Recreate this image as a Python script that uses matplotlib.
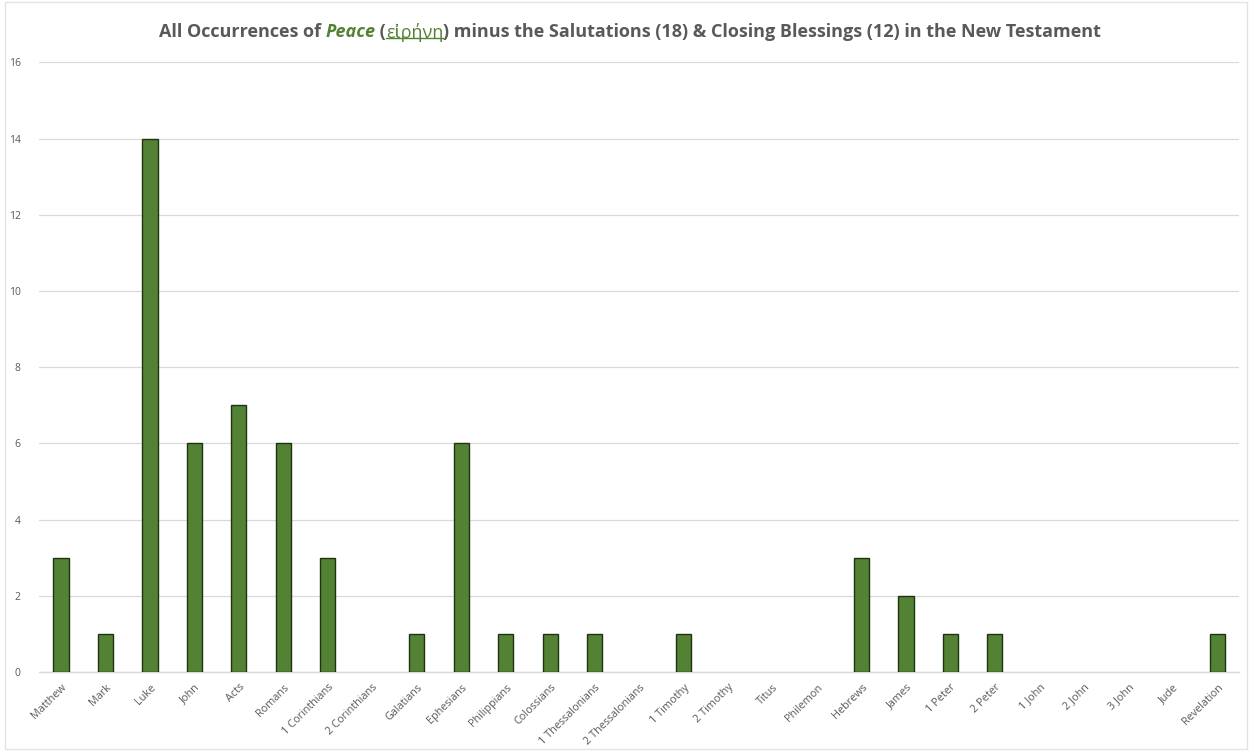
import matplotlib

matplotlib.use("Agg")
import matplotlib.pyplot as plt
from matplotlib.patches import Rectangle

# Occurrences per book, salutations and closing blessings removed.
books = [
    "Matthew", "Mark", "Luke", "John", "Acts", "Romans", "1 Corinthians",
    "2 Corinthians", "Galatians", "Ephesians", "Philippians", "Colossians",
    "1 Thessalonians", "2 Thessalonians", "1 Timothy", "2 Timothy", "Titus",
    "Philemon", "Hebrews", "James", "1 Peter", "2 Peter", "1 John", "2 John",
    "3 John", "Jude", "Revelation",
]
counts = [3, 1, 14, 6, 7, 6, 3, 0, 1, 6, 1, 1, 1, 0, 1, 0, 0, 0, 3, 2, 1, 1, 0, 0, 0, 0, 1]
y_ticks = [0, 2, 4, 6, 8, 10, 12, 14, 16]

BAR_COLOR = "#548235"
EDGE_COLOR = "#1E3312"
TEXT_GRAY = "#595959"
GRID_GRAY = "#D9D9D9"

plt.rcParams["font.family"] = ["Open Sans", "DejaVu Sans"]

fig = plt.figure(figsize=(12.52, 7.51), dpi=100)
ax = fig.add_axes([0.031, 0.105, 0.959, 0.812])

positions = list(range(len(books)))
# empty books get no outline so nothing shows on the baseline
edges = [EDGE_COLOR if c > 0 else "none" for c in counts]
ax.bar(positions, counts, width=0.34, color=BAR_COLOR, edgecolor=edges,
       linewidth=1.0, zorder=3)

ax.set_xlim(-0.5, len(books) - 0.5)
ax.set_ylim(0, 16)
ax.set_yticks(y_ticks)
ax.set_yticklabels([str(v) for v in y_ticks], fontsize=7.5, color=TEXT_GRAY)
ax.set_xticks(positions)
ax.set_xticklabels(books, rotation=45, ha="right", rotation_mode="anchor",
                   fontsize=7.8, color=TEXT_GRAY)
ax.tick_params(axis="both", length=0, pad=7)
ax.tick_params(axis="y", pad=13)
ax.grid(True, axis="y", color=GRID_GRAY, linewidth=0.9, zorder=0)
for side in ("top", "right", "left"):
    ax.spines[side].set_visible(False)
ax.spines["bottom"].set_color(GRID_GRAY)
ax.spines["bottom"].set_linewidth(1.0)

# Title built from pieces so the keyword and the Greek word get their own style.
pieces = [
    ("All Occurrences of ", TEXT_GRAY, "normal", "bold", False),
    ("Peace", BAR_COLOR, "italic", "bold", False),
    (" (", TEXT_GRAY, "normal", "bold", False),
    ("εἰρήνη", BAR_COLOR, "normal", "normal", True),
    (") minus the Salutations (18) & Closing Blessings (12) in the New Testament",
     TEXT_GRAY, "normal", "bold", False),
]
title_y = 1 - 32 / 751
texts = []
for label, color, style, weight, _ in pieces:
    texts.append(fig.text(0, title_y, label, color=color, style=style,
                          fontsize=13, fontweight=weight, va="center", ha="left"))

fig.canvas.draw()
renderer = fig.canvas.get_renderer()
fig_w = fig.bbox.width
widths = [t.get_window_extent(renderer).width for t in texts]
x = (fig_w - sum(widths)) / 2 + 4
for t, w in zip(texts, widths):
    t.set_x(x / fig_w)
    x += w

fig.canvas.draw()
for t, piece in zip(texts, pieces):
    if piece[4]:
        bb = t.get_window_extent(renderer).transformed(fig.transFigure.inverted())
        fig.add_artist(plt.Line2D([bb.x0, bb.x1], [bb.y0 + 0.004, bb.y0 + 0.004],
                                  color=piece[1], linewidth=1.0,
                                  transform=fig.transFigure))

fig.add_artist(Rectangle((0.004, 0.003), 0.992, 0.994, transform=fig.transFigure,
                         fill=False, edgecolor="#E3E3E3", linewidth=1.0))

fig.savefig("out.png", dpi=100, facecolor="white")
